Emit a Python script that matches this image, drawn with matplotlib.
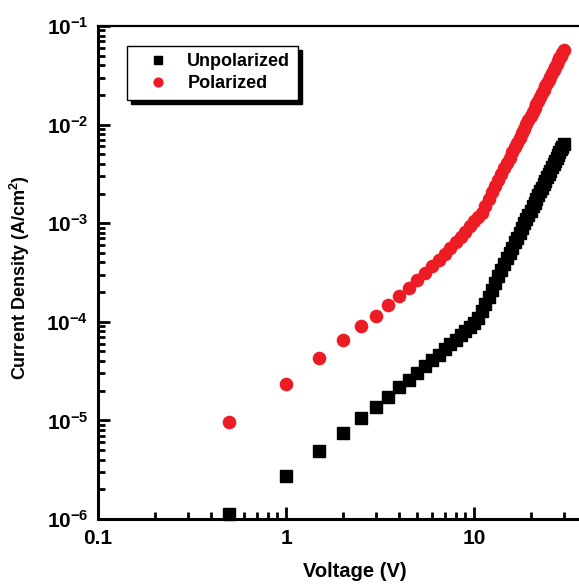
import math

import matplotlib

matplotlib.use("Agg")
from matplotlib import pyplot as plt
from matplotlib.ticker import FixedLocator, FuncFormatter, LogLocator, NullFormatter

# Applied voltage (V), measured in 0.5 V steps.
voltage = [
    0.5, 1.0, 1.5, 2.0, 2.5, 3.0, 3.5, 4.0, 4.5, 5.0,
    5.5, 6.0, 6.5, 7.0, 7.5, 8.0, 8.5, 9.0, 9.5, 10.0,
    10.5, 11.0, 11.5, 12.0, 12.5, 13.0, 13.5, 14.0, 14.5, 15.0,
    15.5, 16.0, 16.5, 17.0, 17.5, 18.0, 18.5, 19.0, 19.5, 20.0,
    20.5, 21.0, 21.5, 22.0, 22.5, 23.0, 23.5, 24.0, 24.5, 25.0,
    25.5, 26.0, 26.5, 27.0, 27.5, 28.0, 28.5, 29.0, 29.5, 30.0,
]

# Current density (A/cm^2) of the unpolarized sample.
unpolarized = [
    1.12e-6, 2.75e-6, 4.90e-6, 7.41e-6, 1.06e-5, 1.38e-5, 1.74e-5, 2.16e-5, 2.57e-5, 3.05e-5,
    3.55e-5, 4.07e-5, 4.62e-5, 5.25e-5, 5.89e-5, 6.61e-5, 7.33e-5, 8.13e-5, 8.90e-5, 9.70e-5,
    1.10e-4, 1.28e-4, 1.52e-4, 1.80e-4, 2.12e-4, 2.48e-4, 2.90e-4, 3.36e-4, 3.86e-4, 4.40e-4,
    5.00e-4, 5.66e-4, 6.38e-4, 7.14e-4, 8.00e-4, 8.93e-4, 9.93e-4, 1.10e-3, 1.22e-3, 1.34e-3,
    1.48e-3, 1.62e-3, 1.77e-3, 1.94e-3, 2.11e-3, 2.30e-3, 2.49e-3, 2.70e-3, 2.93e-3, 3.16e-3,
    3.41e-3, 3.68e-3, 3.96e-3, 4.26e-3, 4.57e-3, 4.90e-3, 5.24e-3, 5.61e-3, 5.98e-3, 6.38e-3,
]

# Current density (A/cm^2) of the polarized sample.
polarized = [
    9.55e-6, 2.34e-5, 4.27e-5, 6.61e-5, 9.12e-5, 1.15e-4, 1.48e-4, 1.82e-4, 2.19e-4, 2.63e-4,
    3.09e-4, 3.72e-4, 4.27e-4, 4.90e-4, 5.62e-4, 6.46e-4, 7.24e-4, 8.13e-4, 9.33e-4, 1.05e-3,
    1.15e-3, 1.26e-3, 1.49e-3, 1.75e-3, 2.05e-3, 2.38e-3, 2.74e-3, 3.15e-3, 3.60e-3, 4.09e-3,
    4.63e-3, 5.22e-3, 5.88e-3, 6.58e-3, 7.35e-3, 8.19e-3, 9.08e-3, 1.01e-2, 1.11e-2, 1.22e-2,
    1.34e-2, 1.47e-2, 1.61e-2, 1.75e-2, 1.91e-2, 2.08e-2, 2.25e-2, 2.44e-2, 2.64e-2, 2.85e-2,
    3.07e-2, 3.31e-2, 3.56e-2, 3.82e-2, 4.09e-2, 4.39e-2, 4.69e-2, 5.01e-2, 5.35e-2, 5.70e-2,
]

x_ticks = [0.1, 1, 10]
x_tick_labels = ["0.1", "1", "10"]
y_exponents = [-6, -5, -4, -3, -2, -1]

# Arial-like bold text everywhere.
plt.rcParams["font.family"] = ["Liberation Sans", "DejaVu Sans"]
plt.rcParams["font.weight"] = "bold"
plt.rcParams["mathtext.fontset"] = "custom"
plt.rcParams["mathtext.rm"] = "Liberation Sans:bold"
plt.rcParams["mathtext.bf"] = "Liberation Sans:bold"

fig = plt.figure(figsize=(5.79, 5.84), dpi=100)
ax = fig.add_axes([0.1693, 0.1113, 0.8307, 0.8442])

ax.plot(
    voltage, unpolarized, linestyle="none", marker="s", markersize=8.5,
    color="black", label="Unpolarized", clip_on=False, zorder=3,
)
ax.plot(
    voltage, polarized, linestyle="none", marker="o", markersize=9.8,
    color="#ED1C24", markeredgewidth=0, label="Polarized", clip_on=False, zorder=3,
)

ax.set_xscale("log")
ax.set_yscale("log")
ax.set_xlim(0.1, 36.2)
ax.set_ylim(1e-6, 1e-1)

# Ticks: inward, bottom and left only.
ax.xaxis.set_major_locator(FixedLocator(x_ticks))
ax.xaxis.set_major_formatter(
    FuncFormatter(lambda v, _: x_tick_labels[x_ticks.index(v)] if v in x_ticks else "")
)
ax.xaxis.set_minor_locator(LogLocator(base=10, subs=range(2, 10), numticks=20))
ax.xaxis.set_minor_formatter(NullFormatter())
ax.yaxis.set_major_locator(FixedLocator([10.0 ** e for e in y_exponents]))
ax.yaxis.set_major_formatter(
    FuncFormatter(lambda v, _: r"$\mathbf{10^{%d}}$" % round(math.log10(v)))
)
ax.yaxis.set_minor_locator(LogLocator(base=10, subs=range(2, 10), numticks=20))
ax.yaxis.set_minor_formatter(NullFormatter())

ax.tick_params(which="both", direction="in", top=False, right=False, width=2.0)
ax.tick_params(which="major", length=8.5, labelsize=15, pad=7)
ax.tick_params(which="minor", length=5)
ax.tick_params(axis="y", which="major", labelsize=15, pad=7)

ax.spines["right"].set_visible(False)
ax.spines["left"].set_linewidth(2.2)
ax.spines["bottom"].set_linewidth(2.2)
ax.spines["top"].set_linewidth(1.6)

ax.set_xlabel("Voltage (V)", fontsize=14.5, fontweight="bold")
ax.set_ylabel("Current Density (A/cm$^\\mathbf{2}$)", fontsize=13, fontweight="bold")
ax.xaxis.set_label_coords(0.534, -0.088)
ax.yaxis.set_label_coords(-0.137, 0.49)

legend = ax.legend(
    loc="upper left", bbox_to_anchor=(0.06, 0.96), borderaxespad=0,
    fontsize=13, markerscale=0.75, handletextpad=0.35, labelspacing=0.3,
    borderpad=0.4, handlelength=2.6, fancybox=False, edgecolor="black",
    shadow={"color": "black", "alpha": 1.0, "ox": 3, "oy": -3},
)
legend.get_frame().set_linewidth(1.0)
for text in legend.get_texts():
    text.set_fontweight("bold")

fig.savefig("out.png", dpi=100)
